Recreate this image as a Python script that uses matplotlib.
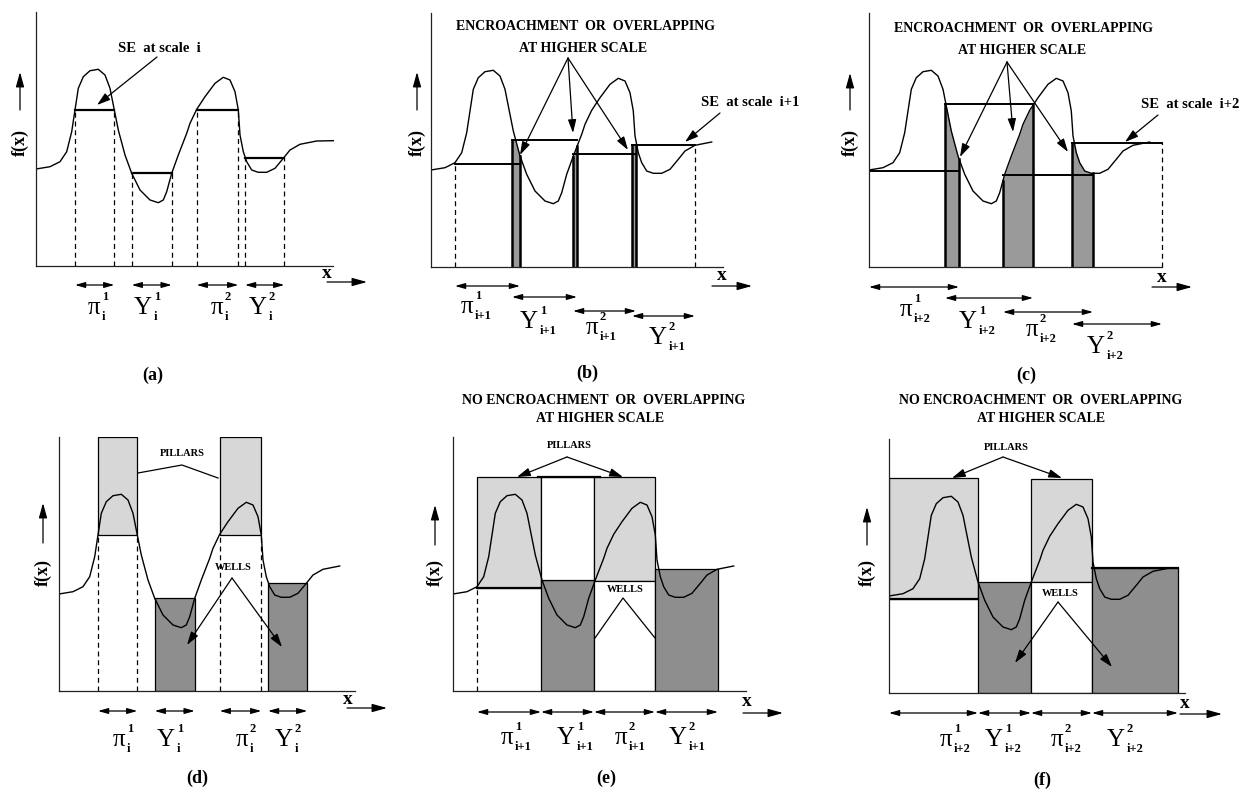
import numpy as np
import matplotlib
matplotlib.use("Agg")
import matplotlib.pyplot as plt

plt.rcParams["font.family"] = ["Liberation Serif", "DejaVu Serif"]

# ---------------- data (arbitrary units) ----------------
# the signal f(x), identical in all six panels
curve_x = [0, 14, 24, 30.7, 35.7, 39, 42.3, 47.3, 54, 62.3, 69, 74, 78.3, 82.3, 89,
           95.7, 104, 114, 122.3, 127.3, 130.7, 135.7, 142.3, 150.7, 154, 160.7, 169,
           179, 187.3, 194, 199, 202.3, 204, 207.3, 210.7, 215.7, 222.3, 230.7, 239,
           247.3, 254, 264, 280.7, 297.3]
curve_f = [97, 99.3, 104.3, 114.3, 134.3, 156, 177.7, 189.3, 195.3, 196.7, 191, 177.7,
           156, 136, 111, 92.7, 76, 66, 63.3, 66, 74.3, 92.7, 111, 132.7, 142.7, 156.7,
           169.3, 182.7, 188.7, 186, 174.3, 156, 131, 114.3, 104.3, 96, 93.7, 93.7, 97.7,
           107.7, 116, 121.7, 125, 125.3]

region_symbols = ["π", "Y", "π", "Y"]
region_numbers = ["1", "1", "2", "2"]
scale_names = ["i", "i+1", "i+2"]

# SE supports (start, end) and levels for scale i  -> panels (a), (d)
se_i_start = [39, 95.7, 160.7, 209]
se_i_end = [78.3, 135.7, 202.3, 248.3]
se_i_level = [156, 92.7, 156.3, 108.3]
pillar_top_i = 254

# scale i+1 -> panel (b) (overlapping supports)
se_i1_start = [24, 81, 142, 201]
se_i1_end = [89, 146, 205, 264]
se_i1_level = [103, 127, 113, 122]

# scale i+2 -> panel (c)
se_i2_start = [0, 76, 134, 203]
se_i2_end = [90, 164, 224, 293]
se_i2_level = [96, 163, 92, 124]

# non-overlapping partitions -> panels (e), (f)
part_i1_start = [24, 88, 141, 202]
part_i1_end = [88, 141, 202, 265]
part_i1_level = [103, 111, 110, 122]
pillar_top_i1 = 214

part_i2_start = [0, 89, 142, 203]
part_i2_end = [89, 142, 203, 289]
part_i2_level = [94, 111, 111, 125]
pillar_top_i2 = 215

LIGHT = "#d7d7d7"
DARK = "#8e8e8e"
STRIP = "#9a9a9a"

W, H = 1244, 792
fig = plt.figure(figsize=(W / 100, H / 100), dpi=100)
fig.patch.set_facecolor("white")

cx = np.array(curve_x, dtype=float)
cf = np.array(curve_f, dtype=float)


def make_ax(ox, oy):
    ax = fig.add_axes([ox / W, (H - oy) / H, 300 / W, 254 / H])
    ax.set_xlim(0, 300)
    ax.set_ylim(0, 254)
    ax.axis("off")
    return ax


def frame(ax, xend):
    ax.plot([0, 0], [0, 254], color="#222222", lw=0.9, clip_on=False, zorder=6)
    ax.plot([0, xend], [0, 0], color="#222222", lw=0.9, clip_on=False, zorder=6)


def draw_curve(ax, xend):
    m = cx <= xend + 0.5
    ax.plot(cx[m], cf[m], color="k", lw=1.0, zorder=5, solid_joinstyle="round")


def arrow(ax, p0, p1, lw=0.9, hl=0.8, hw=0.25):
    ax.annotate("", xy=p1, xytext=p0,
                arrowprops=dict(arrowstyle=f"-|>,head_length={hl},head_width={hw}",
                                color="k", lw=lw, shrinkA=0, shrinkB=0),
                annotation_clip=False, zorder=7)


def darrow(ax, x0, x1, y):
    ax.annotate("", xy=(x1, y), xytext=(x0, y),
                arrowprops=dict(arrowstyle="<|-|>,head_length=0.6,head_width=0.17",
                                color="k", lw=0.9, shrinkA=0, shrinkB=0),
                annotation_clip=False)


def region_label(ax, xr, y, k, scale):
    ax.text(xr, y, region_symbols[k], fontsize=18, ha="right", va="center")
    ax.annotate(region_numbers[k], (xr, y), xytext=(1.2, 3.5), textcoords="offset points",
                fontsize=9, fontweight="bold", ha="left", va="bottom", annotation_clip=False)
    ax.annotate(scale, (xr, y), xytext=(1.2, -2.5), textcoords="offset points",
                fontsize=9, fontweight="bold", ha="left", va="top", annotation_clip=False)


def axis_labels(ax, fxy, fa, xxy, xa):
    ax.text(fxy[0], fxy[1], "f(x)", rotation=90, fontsize=13, fontweight="bold",
            ha="center", va="center")
    arrow(ax, (fxy[0], fa[0]), (fxy[0], fa[1]), hl=0.9, hw=0.25)
    ax.text(xxy[0], xxy[1], "x", fontsize=14, fontweight="bold", ha="center", va="center")
    arrow(ax, (xa[0], xa[2]), (xa[1], xa[2]), hl=0.9, hw=0.25)


def bold(ax, x, y, s, size=10):
    ax.text(x, y, s, fontsize=size, fontweight="bold", ha="center", va="center")


def dashed(ax, x, top):
    ax.plot([x, x], [0, top], color="k", lw=0.9, ls=(0, (4, 3)), zorder=4)


def overlap_strips(ax, starts, ends, levels):
    for k in range(3):
        lo, hi = starts[k + 1], ends[k]
        cap = max(levels[k], levels[k + 1])
        xs = np.linspace(lo, hi, 40)
        ys = np.minimum(np.interp(xs, cx, cf), cap)
        ax.fill_between(xs, 0, ys, color=STRIP, lw=0, zorder=2)
        ax.plot([lo, lo], [0, ys[0]], color="k", lw=1.8, zorder=4)
        ax.plot([hi, hi], [0, ys[-1]], color="k", lw=1.8, zorder=4)


# ======================= (a) =======================
ax = make_ax(36, 266)
frame(ax, 297)
draw_curve(ax, 297)
for k in range(4):
    ax.plot([se_i_start[k], se_i_end[k]], [se_i_level[k]] * 2, color="k", lw=1.6, zorder=4)
    dashed(ax, se_i_start[k], se_i_level[k])
    dashed(ax, se_i_end[k], se_i_level[k])
    darrow(ax, se_i_start[k], se_i_end[k], -19)
for k, (xr, y) in enumerate(zip([64, 116, 187, 231], [-42] * 4)):
    region_label(ax, xr, y, k, scale_names[0])
bold(ax, 123, 218, "SE  at scale  i", 10.5)
arrow(ax, (121, 209), (61, 161))
axis_labels(ax, (-16, 124), (156, 194), (291, -8), (291, 331, -16))
bold(ax, 117, -109, "(a)", 13)

# ======================= (b) =======================
ax = make_ax(431, 267)
frame(ax, 292)
draw_curve(ax, 294)
overlap_strips(ax, se_i1_start, se_i1_end, se_i1_level)
for k in range(4):
    ax.plot([se_i1_start[k], se_i1_end[k]], [se_i1_level[k]] * 2, color="k", lw=1.4, zorder=4)
dashed(ax, se_i1_start[0], se_i1_level[0])
dashed(ax, se_i1_end[3], se_i1_level[3])
for k, y in enumerate([-19, -30, -44, -49]):
    darrow(ax, se_i1_start[k], se_i1_end[k], y)
for k, (xr, y) in enumerate(zip([42, 107, 167, 236], [-40, -55, -61, -71])):
    region_label(ax, xr, y, k, scale_names[1])
bold(ax, 154, 240, "ENCROACHMENT  OR  OVERLAPPING")
bold(ax, 152, 219, "AT HIGHER SCALE")
for tgt in [(89, 112), (142, 134), (197, 117)]:
    arrow(ax, (137, 209), tgt)
bold(ax, 319, 164, "SE  at scale  i+1", 10.5)
arrow(ax, (289, 154), (254, 125))
axis_labels(ax, (-14, 125), (157, 195), (291, -9), (281, 321, -19))
bold(ax, 156, -106, "(b)", 13)

# ======================= (c) =======================
ax = make_ax(869, 267)
frame(ax, 293)
draw_curve(ax, 293)
overlap_strips(ax, se_i2_start, se_i2_end, se_i2_level)
for k in range(4):
    ax.plot([se_i2_start[k], se_i2_end[k]], [se_i2_level[k]] * 2, color="k", lw=1.4, zorder=4)
dashed(ax, se_i2_end[3], se_i2_level[3])
for k, y in enumerate([-20, -31, -45, -57]):
    darrow(ax, se_i2_start[k], se_i2_end[k], y)
for k, (xr, y) in enumerate(zip([43, 108, 169, 236], [-43, -55, -63, -80])):
    region_label(ax, xr, y, k, scale_names[2])
bold(ax, 155, 239, "ENCROACHMENT  OR  OVERLAPPING")
bold(ax, 153, 217, "AT HIGHER SCALE")
for tgt in [(91, 110), (144, 135), (199, 115)]:
    arrow(ax, (138, 205), tgt)
bold(ax, 321, 162, "SE  at scale  i+2", 10.5)
arrow(ax, (289, 152), (256, 125))
axis_labels(ax, (-19, 124), (157, 194), (293, -11), (283, 323, -20))
bold(ax, 157, -108, "(c)", 13)

# ======================= (d) =======================
ax = make_ax(59, 691)
frame(ax, 296)
for k in range(4):
    s, e, lv = se_i_start[k], se_i_end[k], se_i_level[k]
    if k % 2 == 0:
        ax.bar(s, pillar_top_i - lv, width=e - s, bottom=lv, align="edge",
               color=LIGHT, edgecolor="k", lw=0.9, zorder=2)
        dashed(ax, s, lv)
        dashed(ax, e, lv)
    else:
        ax.bar(s, lv, width=e - s, bottom=0, align="edge",
               color=DARK, edgecolor="k", lw=0.9, zorder=2)
    darrow(ax, s, e, -20)
draw_curve(ax, 296)
for k, xr in enumerate([66, 116, 189, 234]):
    region_label(ax, xr, -49, k, scale_names[0])
bold(ax, 123, 237, "PILLARS", 7.5)
ax.plot([79, 123, 159], [218, 226, 213], color="k", lw=0.9, zorder=6)
bold(ax, 174, 123, "WELLS", 7.5)
arrow(ax, (173, 113), (128, 46))
arrow(ax, (173, 113), (223, 44))
axis_labels(ax, (-16, 119), (148, 188), (289, -9), (288, 328, -17))
bold(ax, 138, -87, "(d)", 13)

# ======================= (e) =======================
ax = make_ax(453, 691)
frame(ax, 293)
s, e, lv = part_i1_start, part_i1_end, part_i1_level
ax.bar(s[0], pillar_top_i1 - lv[0], width=e[0] - s[0], bottom=lv[0], align="edge",
       color=LIGHT, edgecolor="k", lw=0.9, zorder=2)
ax.bar(s[1], lv[1], width=e[1] - s[1], align="edge", color=DARK, edgecolor="k", lw=0.9, zorder=2)
ax.bar(s[1], pillar_top_i1 - lv[1], width=e[1] - s[1], bottom=lv[1], align="edge",
       color="white", edgecolor="k", lw=0.9, zorder=2)
ax.bar(s[2], pillar_top_i1 - lv[2], width=e[2] - s[2], bottom=lv[2], align="edge",
       color=LIGHT, edgecolor="k", lw=0.9, zorder=2)
ax.bar(s[2], lv[2], width=e[2] - s[2], align="edge", color="white", edgecolor="k", lw=0.9, zorder=2)
ax.bar(s[3], lv[3], width=e[3] - s[3], align="edge", color=DARK, edgecolor="k", lw=0.9, zorder=2)
ax.plot([s[1] - 3, e[1] + 6], [pillar_top_i1] * 2, color="k", lw=1.6, zorder=4)
ax.plot([s[0], e[0]], [lv[0]] * 2, color="k", lw=1.6, zorder=4)
dashed(ax, s[0], lv[0])
for k in range(4):
    darrow(ax, s[k], e[k], -21)
draw_curve(ax, 294)
for k, xr in enumerate([60, 122, 174, 234]):
    region_label(ax, xr, -47, k, scale_names[1])
bold(ax, 151, 291, "NO ENCROACHMENT  OR  OVERLAPPING")
bold(ax, 147, 273, "AT HIGHER SCALE")
bold(ax, 116, 246, "PILLARS", 7.5)
arrow(ax, (114, 234), (64, 214))
arrow(ax, (114, 234), (170, 214))
bold(ax, 172, 102, "WELLS", 7.5)
ax.plot([142, 170, 202], [53, 93, 53], color="k", lw=0.9, zorder=6)
axis_labels(ax, (-18, 119), (146, 186), (294, -11), (290, 330, -22))
bold(ax, 153, -87, "(e)", 13)

# ======================= (f) =======================
ax = make_ax(889, 693)
frame(ax, 296)
s, e, lv = part_i2_start, part_i2_end, part_i2_level
ax.bar(s[0], pillar_top_i2 - lv[0], width=e[0] - s[0], bottom=lv[0], align="edge",
       color=LIGHT, edgecolor="k", lw=0.9, zorder=2)
ax.bar(s[1], lv[1], width=e[1] - s[1], align="edge", color=DARK, edgecolor="k", lw=0.9, zorder=2)
ax.bar(s[2], pillar_top_i2 - 1 - lv[2], width=e[2] - s[2], bottom=lv[2], align="edge",
       color=LIGHT, edgecolor="k", lw=0.9, zorder=2)
ax.bar(s[2], lv[2], width=e[2] - s[2], align="edge", color="white", edgecolor="k", lw=0.9, zorder=2)
ax.bar(s[3], lv[3], width=e[3] - s[3], align="edge", color=DARK, edgecolor="k", lw=0.9, zorder=2)
ax.plot([s[0], e[0]], [lv[0]] * 2, color="k", lw=1.6, zorder=4)
ax.plot([s[3], e[3]], [lv[3]] * 2, color="k", lw=1.6, zorder=4)
for k in range(4):
    darrow(ax, s[k], e[k], -20)
draw_curve(ax, 294)
for k, xr in enumerate([63, 114, 174, 236]):
    region_label(ax, xr, -47, k, scale_names[2])
bold(ax, 152, 293, "NO ENCROACHMENT  OR  OVERLAPPING")
bold(ax, 152, 275, "AT HIGHER SCALE")
bold(ax, 117, 246, "PILLARS", 7.5)
arrow(ax, (114, 236), (63, 215))
arrow(ax, (114, 236), (173, 215))
bold(ax, 171, 100, "WELLS", 7.5)
arrow(ax, (169, 91), (126, 30))
arrow(ax, (169, 91), (223, 26))
axis_labels(ax, (-22, 120), (148, 186), (296, -10), (291, 333, -21))
bold(ax, 153, -87, "(f)", 13)

fig.savefig("out.png", dpi=100, facecolor="white")
